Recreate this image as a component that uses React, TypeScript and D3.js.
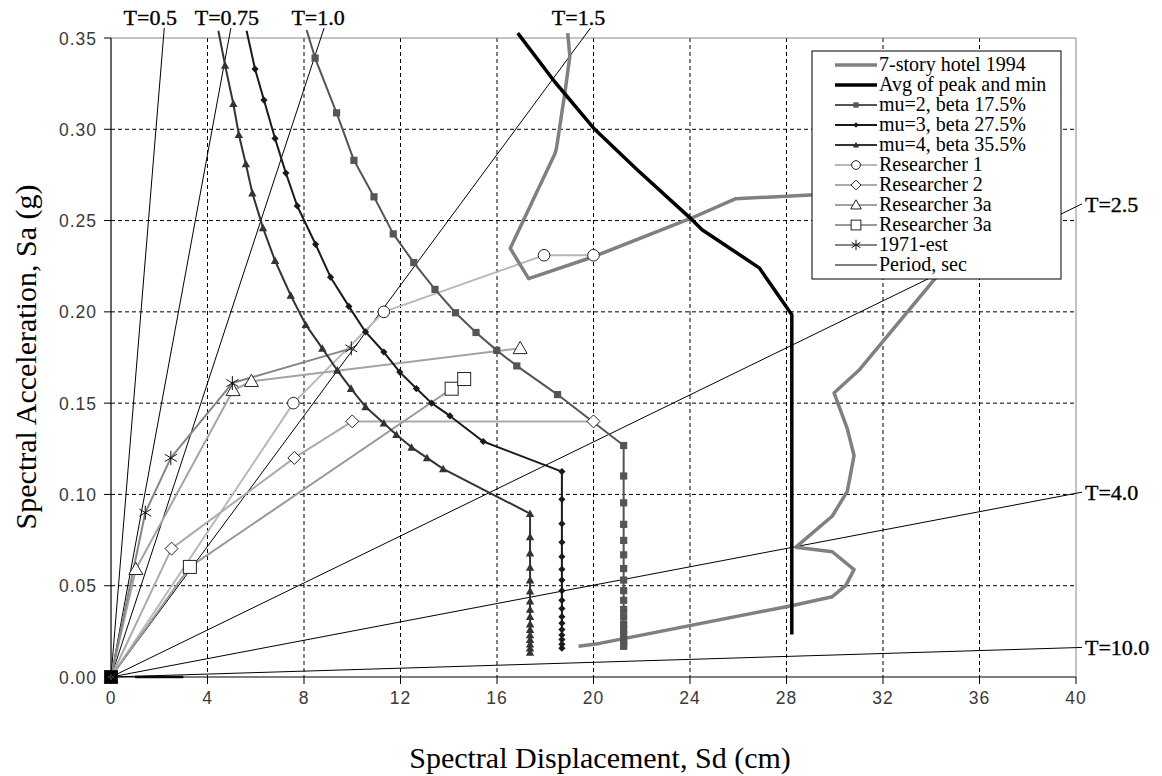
import React from 'react';
import * as d3 from 'd3';

// ---------- DATA ----------
const xTicks = [0, 4, 8, 12, 16, 20, 24, 28, 32, 36, 40];
const yTicks = [0, 0.05, 0.1, 0.15, 0.2, 0.25, 0.3, 0.35];
const periods = [0.5, 0.75, 1.0, 1.5, 2.5, 4.0, 10.0];
const periodLabels = ['T=0.5', 'T=0.75', 'T=1.0', 'T=1.5', 'T=2.5', 'T=4.0', 'T=10.0'];

const hotel1994: [number, number][] = [
  [18.93, 0.3527], [19.02, 0.34], [18.82, 0.3205], [18.47, 0.29], [18.4, 0.2866],
  [16.55, 0.2348], [17.31, 0.2182], [20.0, 0.2302], [24.0, 0.251], [25.9, 0.262],
  [29.0, 0.264], [33.5, 0.265], [34.7, 0.262], [34.4, 0.222], [31.0, 0.168],
  [29.97, 0.1556], [30.52, 0.136], [30.8, 0.1213], [30.52, 0.1017], [29.9, 0.0882],
  [28.39, 0.0711], [29.9, 0.0686], [30.8, 0.0588], [30.46, 0.0502], [29.9, 0.044],
  [28.25, 0.0392], [20.25, 0.0184], [19.38, 0.0168],
];
const avgPeakMin: [number, number][] = [
  [16.86, 0.3527], [18.4, 0.3259], [20.05, 0.3], [21.8, 0.278], [24.0, 0.2515],
  [24.5, 0.245], [26.87, 0.2241], [28.22, 0.1984], [28.22, 0.0233],
];
const mu2: [number, number][] = [
  [8.11, 0.3544], [8.46, 0.339], [9.35, 0.309], [10.07, 0.283], [10.9, 0.263],
  [11.7, 0.2427], [12.55, 0.227], [13.43, 0.2123], [14.28, 0.1995], [15.13, 0.1887],
  [15.99, 0.1789], [16.82, 0.1704], [18.51, 0.1547], [21.25, 0.1268],
  [21.25, 0.1101], [21.25, 0.0954], [21.25, 0.0836], [21.25, 0.0748], [21.25, 0.0669],
  [21.25, 0.0594], [21.25, 0.0531], [21.25, 0.0473], [21.25, 0.042], [21.25, 0.037],
  [21.25, 0.033], [21.25, 0.029], [21.25, 0.026], [21.25, 0.023], [21.25, 0.0205],
  [21.25, 0.0185], [21.25, 0.0168],
];
const mu3: [number, number][] = [
  [5.62, 0.354], [5.97, 0.333], [6.34, 0.316], [6.8, 0.295], [7.25, 0.276],
  [7.72, 0.258], [8.48, 0.237], [9.1, 0.219], [9.86, 0.203], [10.55, 0.189],
  [11.31, 0.178], [11.97, 0.167], [12.66, 0.158], [13.29, 0.15], [14.05, 0.143],
  [15.43, 0.129], [18.69, 0.1125],
  [18.69, 0.0973], [18.69, 0.084], [18.69, 0.0738], [18.69, 0.0659], [18.69, 0.059],
  [18.69, 0.0531], [18.69, 0.0473], [18.69, 0.042], [18.69, 0.0375], [18.69, 0.033],
  [18.69, 0.0295], [18.69, 0.026], [18.69, 0.023], [18.69, 0.0205], [18.69, 0.018],
  [18.69, 0.0158],
];
const mu4: [number, number][] = [
  [4.45, 0.354], [4.73, 0.335], [5.07, 0.314], [5.3, 0.297], [5.59, 0.281],
  [5.86, 0.265], [6.3, 0.246], [6.8, 0.228], [7.45, 0.209], [8.07, 0.193],
  [8.76, 0.18], [9.38, 0.168], [9.95, 0.158], [10.55, 0.148], [11.31, 0.139],
  [11.83, 0.1327], [12.46, 0.1258], [13.1, 0.12], [13.77, 0.114], [17.37, 0.0895],
  [17.37, 0.0767], [17.37, 0.0679], [17.37, 0.06], [17.37, 0.0531], [17.37, 0.047],
  [17.37, 0.0415], [17.37, 0.037], [17.37, 0.033], [17.37, 0.029], [17.37, 0.026],
  [17.37, 0.023], [17.37, 0.0205], [17.37, 0.018], [17.37, 0.0158], [17.37, 0.0135],
];
const researcher1: [number, number][] = [[0, 0], [7.56, 0.15], [11.31, 0.2], [17.95, 0.231], [20.0, 0.231]];
const researcher2: [number, number][] = [[0, 0], [2.51, 0.0703], [7.6, 0.12], [10.0, 0.14], [20.0, 0.14]];
const researcher3aTri: [number, number][] = [[0, 0], [1.03, 0.059], [5.06, 0.157], [5.82, 0.162], [16.96, 0.18]];
const researcher3aSq: [number, number][] = [[0, 0], [3.27, 0.0603], [14.12, 0.1579], [14.64, 0.1632]];
const est1971: [number, number][] = [[0, 0], [1.42, 0.09], [2.48, 0.12], [5.03, 0.161], [9.96, 0.18]];
const baseSegment: [number, number][] = [[1.0, 0], [3.0, 0]];

const legendLabels = [
  '7-story hotel 1994', 'Avg of peak and min', 'mu=2, beta 17.5%', 'mu=3, beta 27.5%',
  'mu=4, beta 35.5%', 'Researcher 1', 'Researcher 2', 'Researcher 3a', 'Researcher 3a',
  '1971-est', 'Period, sec',
];

// ---------- LAYOUT ----------
const W = 1162, H = 776;
const x = d3.scaleLinear().domain([0, 40]).range([111, 1076]);
const y = d3.scaleLinear().domain([0, 0.35]).range([677, 38]);
const line = d3.line<[number, number]>().x(d => x(d[0])).y(d => y(d[1]));

type MK = 'fsq' | 'fdia' | 'ftri' | 'circ' | 'dia' | 'tri' | 'sq' | 'star' | 'none';

function Marker({ t, cx, cy, s = 1 }: { t: MK; cx: number; cy: number; s?: number }) {
  switch (t) {
    case 'fsq': { const h = 3.6 * s; return <rect x={cx - h} y={cy - h} width={2 * h} height={2 * h} fill="#555" />; }
    case 'fdia': { const h = 3.6 * s; return <path d={`M${cx},${cy - h}L${cx + h},${cy}L${cx},${cy + h}L${cx - h},${cy}Z`} fill="#1a1a1a" />; }
    case 'ftri': { const h = 4.2 * s; return <path d={`M${cx},${cy - h}L${cx + h},${cy + h * 0.8}L${cx - h},${cy + h * 0.8}Z`} fill="#333" />; }
    case 'circ': return <circle cx={cx} cy={cy} r={5.8 * s} fill="#fff" stroke="#222" strokeWidth={1} />;
    case 'dia': { const h = 6.5 * s; return <path d={`M${cx},${cy - h}L${cx + h},${cy}L${cx},${cy + h}L${cx - h},${cy}Z`} fill="#fff" stroke="#222" strokeWidth={1} />; }
    case 'tri': { const h = 7 * s; return <path d={`M${cx},${cy - h}L${cx + h},${cy + h * 0.75}L${cx - h},${cy + h * 0.75}Z`} fill="#fff" stroke="#222" strokeWidth={1} />; }
    case 'sq': { const h = 6.5 * s; return <rect x={cx - h} y={cy - h} width={2 * h} height={2 * h} fill="#fff" stroke="#222" strokeWidth={1} />; }
    case 'star': {
      const h = 7 * s, d = 6 * s;
      return <g stroke="#111" strokeWidth={1}>
        <line x1={cx} y1={cy - h} x2={cx} y2={cy + h} />
        <line x1={cx - d} y1={cy - d * 0.6} x2={cx + d} y2={cy + d * 0.6} />
        <line x1={cx - d} y1={cy + d * 0.6} x2={cx + d} y2={cy - d * 0.6} />
      </g>;
    }
    default: return null;
  }
}

interface Series { data: [number, number][]; color: string; width: number; marker: MK; }
const seriesList: Series[] = [
  { data: hotel1994, color: '#808080', width: 3.5, marker: 'none' },
  { data: avgPeakMin, color: '#000', width: 3.5, marker: 'none' },
  { data: mu2, color: '#555', width: 2, marker: 'fsq' },
  { data: mu3, color: '#1a1a1a', width: 2, marker: 'fdia' },
  { data: mu4, color: '#333', width: 2, marker: 'ftri' },
  { data: researcher1, color: '#b8b8b8', width: 2, marker: 'circ' },
  { data: researcher2, color: '#ababab', width: 2, marker: 'dia' },
  { data: researcher3aTri, color: '#a3a3a3', width: 2, marker: 'tri' },
  { data: researcher3aSq, color: '#999', width: 2, marker: 'sq' },
  { data: est1971, color: '#858585', width: 2, marker: 'star' },
];
const drawOrder = [5, 6, 7, 8, 9, 4, 3, 2, 0, 1];

const topLabelDx: Record<string, number> = { 'T=0.5': -14, 'T=0.75': -4, 'T=1.0': -6, 'T=1.5': -12 };

export default function App() {
  const periodLines = periods.map((T, i) => {
    const k = (4 * Math.PI * Math.PI) / (T * T * 981);
    const sa = Math.min(0.3555, k * 40.25);
    const sd = sa / k;
    return { T, k, sd, sa, label: periodLabels[i], top: sa >= 0.3555 - 1e-9 };
  });

  const serif = '"Liberation Serif", "Times New Roman", serif';
  const sans = '"Liberation Sans", Arial, sans-serif';

  return (
    <svg width={W} height={H} style={{ position: 'absolute', left: 0, top: 0, background: '#fff' }} xmlns="http://www.w3.org/2000/svg">
      <rect width={W} height={H} fill="#fff" />
      {/* grid */}
      <g stroke="#000" strokeWidth={1} strokeDasharray="4,3">
        {xTicks.filter(v => v > 0 && v < 40).map(v => (
          <line key={'gx' + v} x1={x(v)} x2={x(v)} y1={y(0.35)} y2={y(0)} />
        ))}
        {yTicks.filter(v => v > 0.001 && v < 0.349).map(v => (
          <line key={'gy' + v} x1={x(0)} x2={x(40)} y1={y(v)} y2={y(v)} />
        ))}
      </g>
      <line x1={x(0)} x2={x(40)} y1={y(0.35)} y2={y(0.35)} stroke="#888" strokeWidth={1} />
      <line x1={x(40)} x2={x(40)} y1={y(0.35)} y2={y(0)} stroke="#888" strokeWidth={1} />

      {/* period lines */}
      {periodLines.map(p => (
        <line key={'p' + p.T} x1={x(0)} y1={y(0)} x2={x(p.sd)} y2={y(p.sa)} stroke="#000" strokeWidth={1} />
      ))}
      {periodLines.map(p => p.top ? (
        <text key={'pl' + p.T} x={x(p.sd) + (topLabelDx[p.label] ?? -8)} y={25} textAnchor="middle"
          fontFamily={serif} fontSize={22} stroke="#000" strokeWidth={0.35} fill="#000">{p.label}</text>
      ) : (
        <text key={'pl' + p.T} x={1085} y={y(p.sa) + 8} textAnchor="start"
          fontFamily={serif} fontSize={22} stroke="#000" strokeWidth={0.35} fill="#000">{p.label}</text>
      ))}

      <path d={line(baseSegment) || ''} stroke="#111" strokeWidth={2.5} fill="none" />

      {drawOrder.map(i => {
        const s = seriesList[i];
        return <path key={'s' + i} d={line(s.data) || ''} fill="none" stroke={s.color} strokeWidth={s.width} strokeLinejoin="round" />;
      })}
      {drawOrder.map(i => {
        const s = seriesList[i];
        if (s.marker === 'none') return null;
        const pts = (i >= 2 && i <= 4) ? s.data.slice(1) : s.data;
        return <g key={'m' + i}>{pts.map((d, j) => <Marker key={j} t={s.marker} cx={x(d[0])} cy={y(d[1])} />)}</g>;
      })}
      <rect x={x(0) - 6} y={y(0) - 6} width={12} height={12} fill="#000" />
      <g stroke="#fff" strokeWidth={0.8}>
        <line x1={x(0) - 3} y1={y(0)} x2={x(0) + 3} y2={y(0)} />
        <line x1={x(0)} y1={y(0) - 3} x2={x(0)} y2={y(0) + 3} />
      </g>

      {/* axes */}
      <line x1={x(0)} x2={x(0)} y1={y(0.35)} y2={y(0)} stroke="#000" strokeWidth={1.2} />
      <line x1={x(0)} x2={x(40)} y1={y(0)} y2={y(0)} stroke="#000" strokeWidth={1.2} />
      {yTicks.map(v => (
        <g key={'yt' + v}>
          <line x1={x(0) - 7} x2={x(0)} y1={y(v)} y2={y(v)} stroke="#000" />
          <text x={97} y={y(v) + 6.5} textAnchor="end" fontFamily={sans} fontSize={17.5} letterSpacing={1} fill="#3a3a3a">{v.toFixed(2)}</text>
        </g>
      ))}
      {xTicks.map(v => (
        <g key={'xt' + v}>
          <line x1={x(v)} x2={x(v)} y1={y(0)} y2={y(0) + 7} stroke="#000" />
          <text x={x(v)} y={704} textAnchor="middle" fontFamily={sans} fontSize={17.5} letterSpacing={1} fill="#3a3a3a">{v}</text>
        </g>
      ))}
      <text x={600} y={768} textAnchor="middle" fontFamily={serif} fontSize={30} fill="#000">Spectral Displacement, Sd (cm)</text>
      <text transform="translate(36,357) rotate(-90)" textAnchor="middle" fontFamily={serif} fontSize={30} fill="#000">Spectral Acceleration, Sa (g)</text>

      {/* legend */}
      <rect x={812} y={51} width={249} height={228} fill="#fff" stroke="#000" strokeWidth={1} />
      {legendLabels.map((lab, i) => {
        const cy = 65 + i * 20;
        const s = i < 10 ? seriesList[i] : { color: '#000', width: 1, marker: 'none' as MK };
        return (
          <g key={'lg' + i}>
            <line x1={835} x2={877} y1={cy} y2={cy} stroke={s.color} strokeWidth={s.width} />
            <Marker t={s.marker} cx={856} cy={cy} s={0.75} />
            <text x={879} y={cy + 6} fontFamily={serif} fontSize={20} fill="#000">{lab}</text>
          </g>
        );
      })}
    </svg>
  );
}
